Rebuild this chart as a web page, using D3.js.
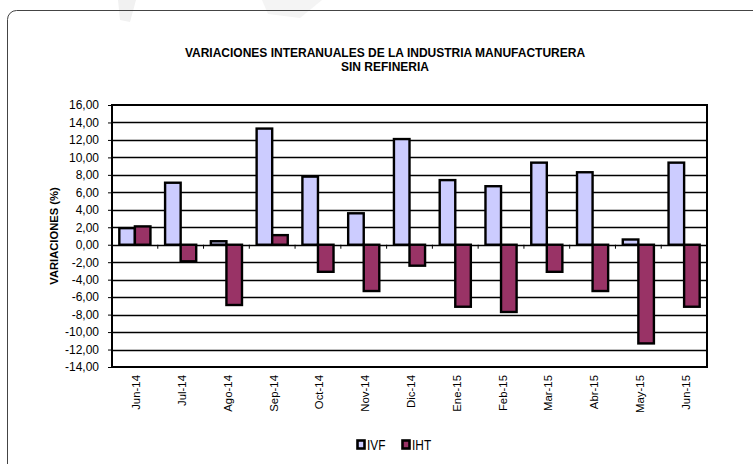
<!DOCTYPE html>
<html>
<head>
<meta charset="utf-8">
<script src="https://cdn.jsdelivr.net/npm/d3@7"></script>
<style>
  body { margin: 0; background: #fff; }
  svg { display: block; font-family: "Liberation Sans", Arial, sans-serif; }
</style>
</head>
<body>
<svg id="chart" width="753" height="464"></svg>
<script>
// data
const months = ["Jun-14", "Jul-14", "Ago-14", "Sep-14", "Oct-14", "Nov-14", "Dic-14",
                "Ene-15", "Feb-15", "Mar-15", "Abr-15", "May-15", "Jun-15"]
const ivf = [1.9, 7.1, 0.4, 13.3, 7.8, 3.6, 12.1, 7.4, 6.7, 9.4, 8.3, 0.6, 9.4]
const iht = [2.1, -1.9, -6.9, 1.1, -3.1, -5.3, -2.4, -7.1, -7.7, -3.1, -5.3, -11.3, -7.1]
const seriesNames = ["IVF", "IHT"]
const yTicks = d3.range(-14, 17, 2)

const colors = {IVF: "#ccccff", IHT: "#993366"}

const svg = d3.select("#chart")

// faint watermark shapes at the top
svg.append("path").attr("d", "M118,0 L136,0 L130,22 L120,20 Z").attr("fill", "#f1f1f1")
svg.append("path").attr("d", "M262,0 L322,0 L300,18 L268,14 Z").attr("fill", "#f4f4f4")

// card border
svg.append("rect")
    .attr("x", 7.5).attr("y", 10.5)
    .attr("width", 800).attr("height", 500)
    .attr("rx", 9)
    .attr("fill", "none").attr("stroke", "#444").attr("stroke-width", 1)

// title
const title = svg.append("text")
    .attr("text-anchor", "middle")
    .attr("font-size", 12).attr("font-weight", "bold")
title.append("tspan").attr("x", 385).attr("y", 57).text("VARIACIONES INTERANUALES DE LA INDUSTRIA MANUFACTURERA")
title.append("tspan").attr("x", 385).attr("y", 71).text("SIN REFINERIA")

const plotL = 112, plotR = 707, plotT = 105, plotB = 367

const y = d3.scaleLinear().domain([-14, 16]).range([plotB, plotT])
const x0 = d3.scaleBand().domain(months).range([plotL, plotR]).padding(0)
const bw = x0.bandwidth()
const x1 = d3.scaleBand().domain(seriesNames).range([bw * 0.16, bw * 0.84]).padding(0)

const fmt = v => d3.format(".2f")(v).replace(".", ",").replace("−", "-")

// gridlines
svg.append("g").selectAll("line")
    .data(yTicks.filter(v => v > -14 && v < 16))
    .join("line")
    .attr("x1", plotL).attr("x2", plotR)
    .attr("y1", d => Math.round(y(d)) + 0.5).attr("y2", d => Math.round(y(d)) + 0.5)
    .attr("stroke", "#000").attr("stroke-width", 1.3)

// y axis
const yAxis = svg.append("g")
    .attr("transform", `translate(${plotL},0)`)
    .call(d3.axisLeft(y).tickValues(yTicks).tickFormat(fmt).tickSize(4).tickPadding(9))
yAxis.select(".domain").remove()
yAxis.selectAll("line").attr("stroke", "#000")
yAxis.selectAll("text").attr("font-size", 12).attr("fill", "#000")
    .attr("font-family", "'Liberation Sans', Arial, sans-serif")

// y axis title
svg.append("text")
    .attr("transform", `translate(57.5,${(plotT + plotB) / 2}) rotate(-90)`)
    .attr("text-anchor", "middle")
    .attr("font-size", 11.2).attr("font-weight", "bold")
    .text("VARIACIONES (%)")

// bars
const rows = months.map((m, i) => ({month: m, IVF: ivf[i], IHT: iht[i]}))
svg.append("g").selectAll("g")
    .data(rows)
    .join("g")
    .attr("transform", d => `translate(${x0(d.month)},0)`)
    .selectAll("rect")
    .data(d => seriesNames.map(k => ({key: k, value: d[k]})))
    .join("rect")
    .attr("x", d => x1(d.key))
    .attr("width", x1.bandwidth())
    .attr("y", d => y(Math.max(0, d.value)))
    .attr("height", d => Math.abs(y(d.value) - y(0)))
    .attr("fill", d => colors[d.key])
    .attr("stroke", "#000").attr("stroke-width", 2.4)

// category ticks on the zero line
svg.append("g").selectAll("line")
    .data(months.slice(1))
    .join("line")
    .attr("x1", d => x0(d)).attr("x2", d => x0(d))
    .attr("y1", y(0)).attr("y2", y(0) + 4)
    .attr("stroke", "#000").attr("stroke-width", 1)

// plot border
svg.append("rect")
    .attr("x", plotL).attr("y", plotT)
    .attr("width", plotR - plotL).attr("height", plotB - plotT)
    .attr("fill", "none").attr("stroke", "#000").attr("stroke-width", 2)

// x labels, rotated
svg.append("g").selectAll("text")
    .data(months)
    .join("text")
    .attr("transform", d => `translate(${x0(d) + bw / 2 + 5.5},${plotB + 8}) rotate(-90)`)
    .attr("text-anchor", "end")
    .attr("font-size", 11.4)
    .text(d => d)

// legend
const legend = svg.append("g").attr("transform", "translate(357,440)")
seriesNames.forEach((k, i) => {
  const g = legend.append("g").attr("transform", `translate(${i * 45},0)`)
  g.append("rect").attr("x", 0.5).attr("y", 0.5).attr("width", 7).attr("height", 8)
      .attr("fill", colors[k]).attr("stroke", "#000").attr("stroke-width", 2.6)
  g.append("text").attr("transform", "translate(10,10) scale(0.82,1)")
      .attr("font-size", 14.5).text(k)
})
</script>
</body>
</html>
